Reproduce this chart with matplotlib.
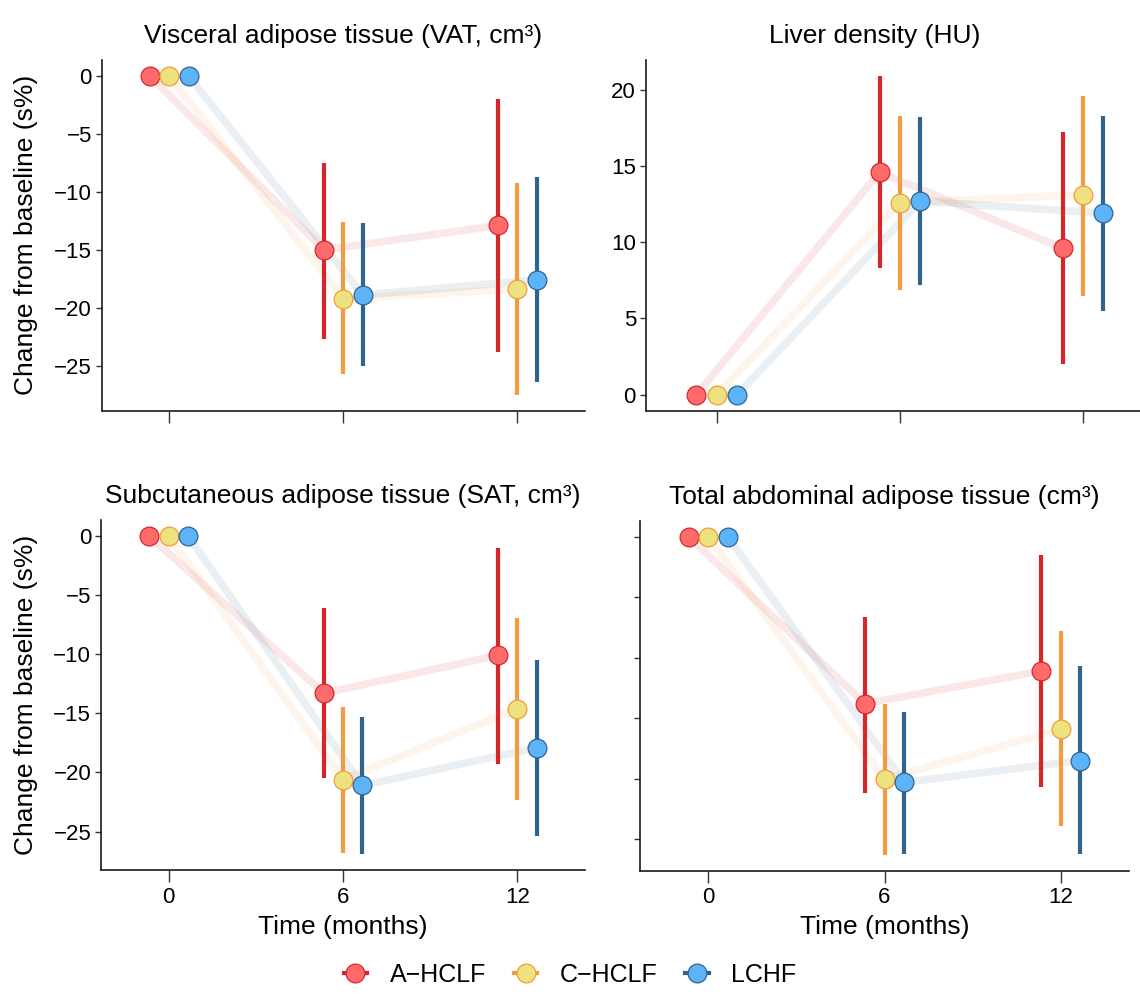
import numpy as np
import matplotlib.pyplot as plt
from matplotlib.lines import Line2D

plt.rcParams['font.family'] = ['Liberation Sans', 'DejaVu Sans']

months = [0, 6, 12]
groups = ["A\u2212HCLF", "C\u2212HCLF", "LCHF"]

# rows = groups (A-HCLF, C-HCLF, LCHF), columns = months
vat_mean = [[0, -15.0, -12.9], [0, -19.2, -18.4], [0, -18.9, -17.6]]
vat_lo = [[0, -22.7, -23.8], [0, -25.7, -27.5], [0, -25.0, -26.4]]
vat_hi = [[0, -7.5, -2.0], [0, -12.6, -9.2], [0, -12.7, -8.7]]

liver_mean = [[0, 14.6, 9.6], [0, 12.6, 13.1], [0, 12.7, 11.9]]
liver_lo = [[0, 8.3, 2.0], [0, 6.9, 6.5], [0, 7.2, 5.5]]
liver_hi = [[0, 20.9, 17.2], [0, 18.3, 19.6], [0, 18.2, 18.3]]

sat_mean = [[0, -13.3, -10.1], [0, -20.6, -14.6], [0, -21.1, -17.9]]
sat_lo = [[0, -20.5, -19.3], [0, -26.8, -22.3], [0, -26.9, -25.4]]
sat_hi = [[0, -6.1, -1.0], [0, -14.5, -6.9], [0, -15.3, -10.5]]

tot_mean = [[0, -13.8, -11.1], [0, -20.05, -15.9], [0, -20.3, -18.5]]
tot_lo = [[0, -21.2, -20.7], [0, -26.3, -23.9], [0, -26.2, -26.2]]
tot_hi = [[0, -6.6, -1.5], [0, -13.8, -7.8], [0, -14.5, -10.7]]

titles = ["Visceral adipose tissue (VAT, cm\u00b3)", "Liver density (HU)",
          "Subcutaneous adipose tissue (SAT, cm\u00b3)", "Total abdominal adipose tissue (cm\u00b3)"]

bar_cols = ["#D7262A", "#F29B3F", "#2F6390"]
fill_cols = ["#FF6B6B", "#EDE27D", "#5DB3F8"]
dodge = [-2/3, 0, 2/3]  # dodge offsets in months

W, H = 1140, 994
fig = plt.figure(figsize=(W/100, H/100), dpi=100)

def add_px_axes(l, t, r, b):
    return fig.add_axes([l/W, 1 - b/H, (r - l)/W, (b - t)/H])

boxes = [(101.7, 60, 585, 410.7), (645.7, 60, 1154, 410.7),
         (101, 520, 585, 870), (640, 521, 1129, 870.7)]
data = [(vat_mean, vat_lo, vat_hi), (liver_mean, liver_lo, liver_hi),
        (sat_mean, sat_lo, sat_hi), (tot_mean, tot_lo, tot_hi)]

for k, (box, (mean, lo, hi)) in enumerate(zip(boxes, data)):
    ax = add_px_axes(*box)
    for g in range(3):
        x = np.array(months) + dodge[g]
        ax.plot(x, mean[g], color=bar_cols[g], alpha=0.1, lw=5.5, zorder=1,
                solid_capstyle='butt')
    for g in range(3):
        x = np.array(months) + dodge[g]
        ax.vlines(x, lo[g], hi[g], color=bar_cols[g], lw=3, zorder=2)
    for g in range(3):
        x = np.array(months) + dodge[g]
        ax.plot(x, mean[g], 'o', ms=13.5, mfc=fill_cols[g], mec=bar_cols[g],
                mew=0.9, ls='none', zorder=3)

    allv = np.concatenate([np.ravel(lo), np.ravel(hi)])
    lo_v, hi_v = allv.min(), allv.max()
    pad = 0.05 * (hi_v - lo_v)
    ax.set_ylim(lo_v - pad, hi_v + pad)
    ax.set_xlim(-2.33, 14.33)
    ax.set_xticks(months)
    ax.set_yticks(np.arange(0, 21, 5) if k == 1 else np.arange(-25, 1, 5))

    for s in ['top', 'right']:
        ax.spines[s].set_visible(False)
    for s in ['left', 'bottom']:
        ax.spines[s].set_linewidth(1.2)
        ax.spines[s].set_color('#1a1a1a')
    ax.tick_params(axis='x', length=8.5, width=1, color='#333333', labelsize=16,
                   pad=3.5, labelcolor='black')
    ax.tick_params(axis='y', length=4, width=1, color='#333333', labelsize=16,
                   pad=3, labelcolor='black')
    if k < 2:
        ax.tick_params(axis='x', labelbottom=False)
    else:
        ax.set_xlabel("Time (months)", fontsize=19, labelpad=5)
    if k == 3:
        ax.tick_params(axis='y', labelleft=False)
    if k in (0, 2):
        yc = 1 - (box[1] + box[3]) / 2 / H
        fig.text(26/W, yc, "Change from baseline (s%)", rotation=90,
                 ha='center', va='center', fontsize=19)
    ax.set_title(titles[k], fontsize=19, pad=12)
    if k == 1:
        ax.title.set_position((0.45, 1.0))

handles = [Line2D([0], [0], color=bar_cols[g], lw=3, marker='o', ms=13.5,
                  mfc=fill_cols[g], mec=bar_cols[g], mew=0.9) for g in range(3)]
fig.legend(handles, groups, loc='center', bbox_to_anchor=(0.5, 1 - 975/H), ncol=3,
           frameon=False, fontsize=18, handlelength=0.95, handletextpad=0.9,
           columnspacing=1.1)

fig.savefig("out.png", dpi=100)
